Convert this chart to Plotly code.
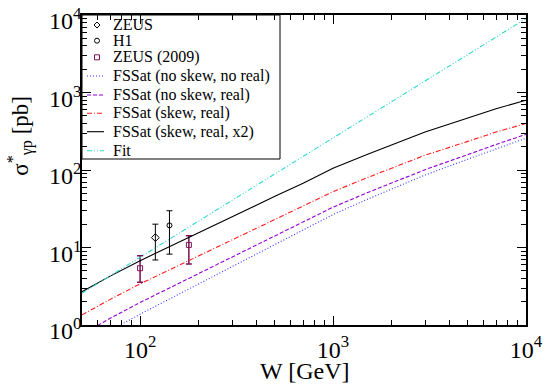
import plotly.graph_objects as go

# energies for the model curves [GeV]
w = [50, 70, 100, 150, 200, 300, 500, 700, 1000, 1500, 2000, 3000, 5000, 7000, 10000]

# model curves [pb]
no_skew_no_real = [0.52, 0.85, 1.38, 2.32, 3.35, 5.69, 11.0, 16.6, 26.6, 41.7,
                   56.2, 86.1, 138.0, 188.0, 257.0]
no_skew_real = [0.76, 1.22, 1.95, 3.20, 4.57, 7.59, 14.1, 21.1, 33.1, 50.7,
                67.6, 101.0, 158.0, 214.0, 288.0]
skew_real = [1.35, 2.14, 3.39, 5.50, 7.76, 12.6, 22.9, 33.9, 52.5, 79.4,
             105.0, 155.0, 234.0, 309.0, 398.0]
skew_real_x2 = [2.69, 4.27, 6.76, 11.0, 15.5, 25.1, 45.7, 67.6, 105.0, 158.0,
                209.0, 309.0, 468.0, 617.0, 794.0]

w_fit = [50, 100, 1000, 10000]
fit = [2.57, 7.46, 259.0, 8990.0]

# data points
zeus_w = [120]
zeus_s = [13.4]
zeus_up = [6.6]
zeus_dn = [6.5]

h1_w = [142]
h1_s = [19.3]
h1_up = [10.5]
h1_dn = [11.1]

zeus09_w = [100, 179]
zeus09_s = [5.4, 10.8]
zeus09_up = [2.4, 3.4]
zeus09_dn = [1.85, 4.7]

x_ticks = [100, 1000, 10000]
x_labels = ["10<sup>2</sup>", "10<sup>3</sup>", "10<sup>4</sup>"]
y_ticks = [1, 10, 100, 1000, 10000]
y_labels = ["10<sup>0</sup>", "10<sup>1</sup>", "10<sup>2</sup>",
            "10<sup>3</sup>", "10<sup>4</sup>"]

FONT = "Liberation Serif"
MAROON = "#7a1456"

fig = go.Figure()

fig.add_trace(go.Scatter(
    x=zeus_w, y=zeus_s, mode="markers", name="ZEUS",
    marker=dict(symbol="diamond-open", size=6, color="black", line=dict(width=1)),
    error_y=dict(type="data", symmetric=False, array=zeus_up, arrayminus=zeus_dn,
                 color="black", thickness=1, width=3),
))
fig.add_trace(go.Scatter(
    x=h1_w, y=h1_s, mode="markers", name="H1",
    marker=dict(symbol="circle-open", size=5, color="black", line=dict(width=1)),
    error_y=dict(type="data", symmetric=False, array=h1_up, arrayminus=h1_dn,
                 color="black", thickness=1, width=3),
))
fig.add_trace(go.Scatter(
    x=zeus09_w, y=zeus09_s, mode="markers", name="ZEUS (2009)",
    marker=dict(symbol="square-open", size=5, color=MAROON, line=dict(width=1)),
    error_y=dict(type="data", symmetric=False, array=zeus09_up, arrayminus=zeus09_dn,
                 color=MAROON, thickness=1.5, width=3),
))

curves = [
    ("FSSat (no skew, no real)", w, no_skew_no_real, "#3333ff", "1px,2px"),
    ("FSSat (no skew, real)", w, no_skew_real, "#9400d3", "4px,2px"),
    ("FSSat (skew, real)", w, skew_real, "#ff1a1a", "5px,2px,1px,2px"),
    ("FSSat (skew, real, x2)", w, skew_real_x2, "black", "solid"),
    ("Fit", w_fit, fit, "#30d8d0", "5px,2px,1px,2px,1px,2px"),
]
for name, xs, vals, col, dash in curves:
    fig.add_trace(go.Scatter(
        x=xs, y=vals, mode="lines", name=name,
        line=dict(color=col, dash=dash, width=1.1),
    ))

x_minor = [m * 10 ** d for d in range(1, 4) for m in range(2, 10) if m * 10 ** d >= 50]
y_minor = [m * 10 ** d for d in range(0, 4) for m in range(2, 10)]

axis_common = dict(
    type="log", showline=True, linecolor="black", linewidth=1.5, mirror="ticks",
    ticks="inside", ticklen=9, tickcolor="black", tickwidth=1,
    showgrid=False, zeroline=False, tickmode="array",
    ticklabeloverflow="allow", automargin=False,
    tickfont=dict(family=FONT, size=24, color="black"),
)

fig.update_xaxes(
    **axis_common, range=[1.69897, 4.0003], tickvals=x_ticks, ticktext=x_labels,
    ticklabelstandoff=2,
    minor=dict(tickmode="array", tickvals=x_minor, ticks="inside", ticklen=5,
               tickcolor="black", tickwidth=1, showgrid=False),
)
fig.update_yaxes(
    **axis_common, range=[-0.0003, 4.0003], tickvals=y_ticks, ticktext=y_labels,
    ticklabelshift=6, ticklabelstandoff=-6,
    minor=dict(tickmode="array", tickvals=y_minor, ticks="inside", ticklen=5,
               tickcolor="black", tickwidth=1, showgrid=False),
)

# axis titles
fig.add_annotation(
    text="W [GeV]", xref="paper", yref="paper", x=0.502, y=-0.148,
    xanchor="center", yanchor="middle", showarrow=False,
    font=dict(family=FONT, size=24, color="black"),
)
fig.add_annotation(
    text="σ<sup>*</sup><sub>γp</sub> [pb]", xref="paper", yref="paper",
    x=-0.14, y=0.61, xanchor="center", yanchor="middle", textangle=-90,
    showarrow=False, font=dict(family=FONT, size=23, color="black"),
)

# legend drawn by hand (plotly's own legend rows are too tall)
px_x = lambda p: (p - 82) / 444
px_y = lambda p: (325 - p) / 310

fig.add_shape(type="rect", xref="paper", yref="paper",
              x0=px_x(82), x1=px_x(280), y0=px_y(159), y1=px_y(15),
              line=dict(color="black", width=1), fillcolor="white", layer="below")

rows = [25, 40.7, 57.3, 76, 95, 113.3, 131.7, 150.7]
labels = ["ZEUS", "H1", "ZEUS (2009)", "FSSat (no skew, no real)",
          "FSSat (no skew, real)", "FSSat (skew, real)",
          "FSSat (skew, real, x2)", "Fit"]
for r, lab in zip(rows, labels):
    fig.add_annotation(
        text=lab, xref="paper", yref="paper", x=px_x(111), y=px_y(r),
        xanchor="left", yanchor="middle", showarrow=False,
        font=dict(family=FONT, size=16, color="black"),
    )

mx, my = px_x(97), [px_y(r) for r in rows[:3]]
fig.add_shape(type="path", xref="paper", yref="paper", xsizemode="pixel",
              ysizemode="pixel", xanchor=mx, yanchor=my[0],
              path="M 0,3 L 3,0 L 0,-3 L -3,0 Z", line=dict(color="black", width=1),
              layer="above")
fig.add_shape(type="circle", xref="paper", yref="paper", xsizemode="pixel",
              ysizemode="pixel", xanchor=mx, yanchor=my[1],
              x0=-2.5, x1=2.5, y0=-2.5, y1=2.5, line=dict(color="black", width=1),
              layer="above")
fig.add_shape(type="rect", xref="paper", yref="paper", xsizemode="pixel",
              ysizemode="pixel", xanchor=mx, yanchor=my[2],
              x0=-2.5, x1=2.5, y0=-2.5, y1=2.5, line=dict(color=MAROON, width=1),
              layer="above")

for r, (_, _, _, col, dash) in zip(rows[3:], curves):
    fig.add_shape(type="line", xref="paper", yref="paper",
                  x0=px_x(87), x1=px_x(104), y0=px_y(r), y1=px_y(r),
                  line=dict(color=col, dash=dash, width=1.1), layer="above")

fig.update_layout(
    width=545, height=385,
    margin=dict(l=82, r=19, t=15, b=60, autoexpand=False),
    paper_bgcolor="white", plot_bgcolor="white",
    showlegend=False,
)

# the page body has a default 8px margin; drop it so the figure sits at 0,0
fig.write_html("out.html", config={"displayModeBar": False},
               post_script="document.body.style.margin='0';")
